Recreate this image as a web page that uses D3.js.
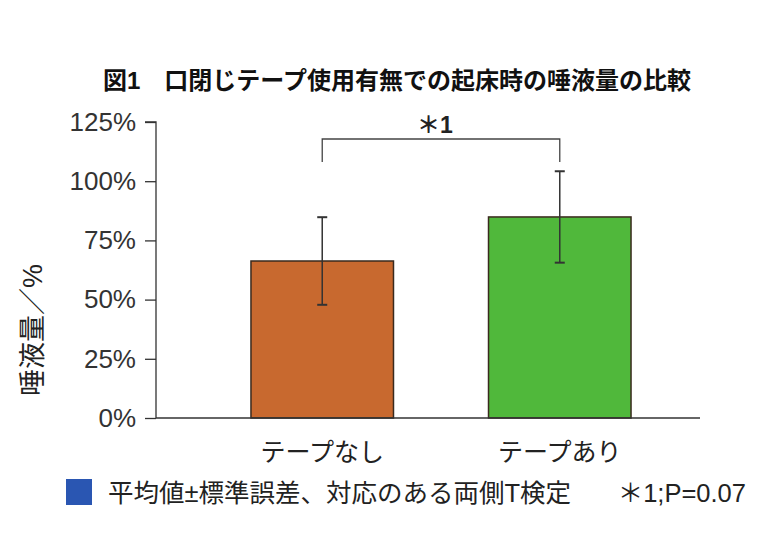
<!DOCTYPE html>
<html><head><meta charset="utf-8">
<script src="https://cdn.jsdelivr.net/npm/d3@7"></script>
<style>
body{margin:0;background:#fff;}
text{font-family:"Liberation Sans","Noto Sans CJK JP",sans-serif;}
</style></head>
<body><svg id="c" width="760" height="549"></svg>
<script>
const categories = ["テープなし", "テープあり"];
const means = [66.3, 84.9];
const errors = [18.5, 19.3];
const yTicks = [0, 25, 50, 75, 100, 125];
const barColors = ["#c8692f", "#50b83b"];
const title = "図1　口閉じテープ使用有無での起床時の唾液量の比較";
const yLabel = "唾液量／%";
const sigLabel = "＊1";
const legendText = "平均値±標準誤差、対応のある両側T検定";
const legendNote = "＊1;P=0.07";

const svg = d3.select("#c");
const y = d3.scaleLinear().domain([0, 125]).range([418, 122]);
const x = d3.scaleBand().domain(categories).range([155, 727]).paddingInner(0.4).paddingOuter(0.404);

// title
svg.append("text").attr("x", 103).attr("y", 89).attr("font-size", 24).attr("font-weight", "bold")
  .attr("fill", "#111").text(title);

// y axis
const yAxis = d3.axisLeft(y).tickValues(yTicks).tickFormat(d => d + "%").tickSize(11).tickPadding(9);
const ga = svg.append("g").attr("transform", "translate(156,0)").call(yAxis);
ga.selectAll("path,line").attr("stroke", "#333").attr("stroke-width", 1.3);
ga.select(".domain").attr("d", `M-11,${y(125)}H0V${y(0)}`);
ga.selectAll("text").attr("font-size", 26).attr("fill", "#333")
  .attr("font-family", "'Liberation Sans',sans-serif");

// bars
svg.selectAll("rect.bar").data(categories).enter().append("rect").attr("class", "bar")
  .attr("x", d => x(d)).attr("width", x.bandwidth())
  .attr("y", (d, i) => y(means[i])).attr("height", (d, i) => y(0) - y(means[i]))
  .attr("fill", (d, i) => barColors[i]).attr("stroke", "#3a2a1e").attr("stroke-width", 1.5);

// x axis line
svg.append("line").attr("x1", 156).attr("x2", 700).attr("y1", y(0)).attr("y2", y(0))
  .attr("stroke", "#333").attr("stroke-width", 1.5);

// x labels
svg.selectAll("text.xl").data(categories).enter().append("text").attr("class", "xl")
  .attr("x", d => x(d) + x.bandwidth() / 2).attr("y", 461).attr("text-anchor", "middle")
  .attr("font-size", 25).attr("fill", "#222").text(d => d);

// error bars
const eb = svg.selectAll("g.eb").data(categories).enter().append("g").attr("class", "eb")
  .attr("stroke", "#333").attr("stroke-width", 1.5);
eb.append("line").attr("x1", d => x(d) + x.bandwidth() / 2).attr("x2", d => x(d) + x.bandwidth() / 2)
  .attr("y1", (d, i) => y(means[i] + errors[i])).attr("y2", (d, i) => y(means[i] - errors[i]));
[1, -1].forEach(s => {
  eb.append("line").attr("x1", d => x(d) + x.bandwidth() / 2 - 5).attr("x2", d => x(d) + x.bandwidth() / 2 + 5)
    .attr("y1", (d, i) => y(means[i] + s * errors[i])).attr("y2", (d, i) => y(means[i] + s * errors[i]))
    .attr("stroke-width", 2);
});

// significance bracket
const cx0 = x(categories[0]) + x.bandwidth() / 2, cx1 = x(categories[1]) + x.bandwidth() / 2;
svg.append("path").attr("d", `M${cx0},162V139H${cx1}V162`).attr("fill", "none")
  .attr("stroke", "#444").attr("stroke-width", 1.3);
svg.append("text").attr("x", (cx0 + cx1) / 2 - 6).attr("y", 133).attr("text-anchor", "middle")
  .attr("font-size", 23).attr("font-weight", "bold").attr("fill", "#222").text(sigLabel);

// y label
svg.append("text").attr("transform", "translate(42,330) rotate(-90)").attr("text-anchor", "middle")
  .attr("font-size", 27).attr("fill", "#222").text(yLabel);

// legend
svg.append("rect").attr("x", 66).attr("y", 479).attr("width", 26).attr("height", 26).attr("fill", "#2a56b2");
svg.append("text").attr("x", 108).attr("y", 502).attr("font-size", 25.5).attr("fill", "#222").text(legendText);
svg.append("text").attr("x", 746).attr("y", 502).attr("text-anchor", "end").attr("font-size", 25.5)
  .attr("fill", "#222").text(legendNote);
</script></body></html>
